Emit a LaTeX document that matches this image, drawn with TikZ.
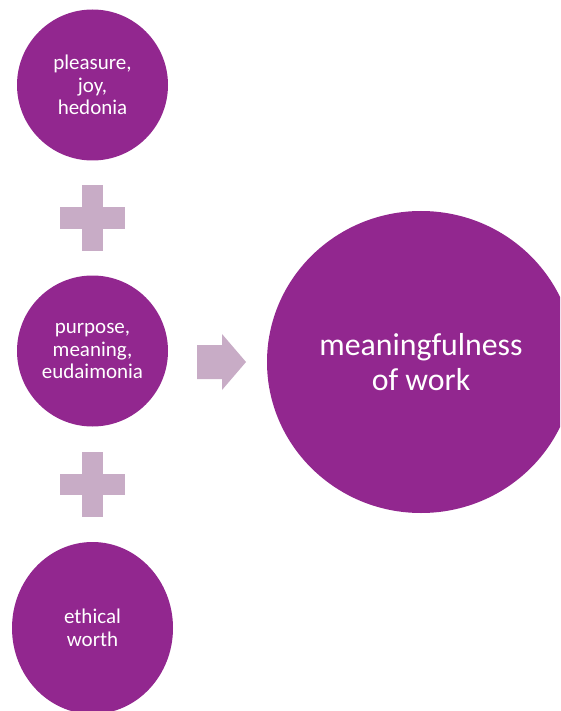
\documentclass[tikz,border=0pt]{standalone}
\usepackage{fontspec}
\setmainfont{Carlito}
\usetikzlibrary{shapes.geometric}
\definecolor{plum}{RGB}{146,39,143}
\definecolor{lilac}{RGB}{200,172,198}
\tikzset{
  bubble/.style={circle, fill=plum, draw=none, inner sep=0pt, minimum size=151pt,
    text=white, align=center, font=\fontsize{21}{22.5}\selectfont},
  oval/.style={ellipse, fill=plum, draw=none, inner sep=0pt,
    text=white, align=center},
  plusmark/.style={fill=lilac, draw=none},
  arrowmark/.style={fill=lilac, draw=none}
}
\begin{document}
\begin{tikzpicture}[x=1pt, y=-1pt]
\useasboundingbox (0,0) rectangle (560,711);
\clip (0,0) rectangle (560,711);
\node[bubble] (a) at (92.5,85) {pleasure,\\joy,\\hedonia};
\node[bubble] (b) at (92.5,351) {purpose,\\meaning,\\eudaimonia};
\node[oval, minimum width=161pt, minimum height=172pt, font=\fontsize{21}{22.5}\selectfont] (c) at (92.5,628) {ethical\\worth};
\node[oval, minimum width=308pt, minimum height=302pt, font=\fontsize{31.8}{35}\selectfont] (d) at (421,362) {meaningfulness\\of work};
% plus signs
\coordinate (p1) at (92.5,218);
\coordinate (p2) at (92.5,484.5);
\foreach \p in {p1,p2}{
  \fill[plusmark] ([xshift=-32.5pt,yshift=10.5pt]\p) rectangle ([xshift=32.5pt,yshift=-10.5pt]\p);
  \fill[plusmark] ([xshift=-10.5pt,yshift=32.5pt]\p) rectangle ([xshift=10.5pt,yshift=-32.5pt]\p);
}
% arrow
\fill[arrowmark] (197,345) -- (222,345) -- (222,334) -- (246,362) -- (222,390) -- (222,379) -- (197,379) -- cycle;
\end{tikzpicture}
\end{document}
